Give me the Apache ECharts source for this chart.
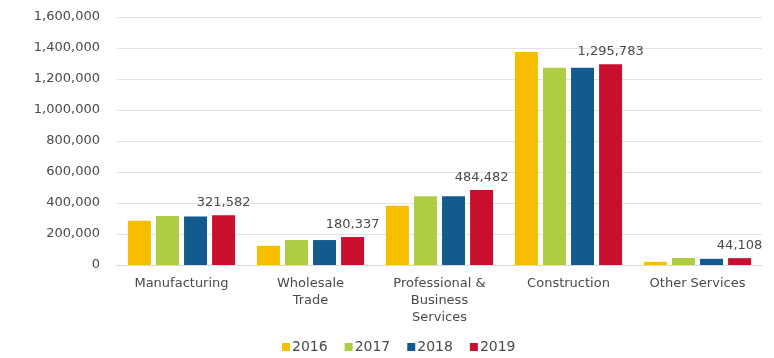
<!DOCTYPE html>
<html><head><meta charset="utf-8">
<script src="https://cdn.jsdelivr.net/npm/echarts@6/dist/echarts.min.js"></script>
<style>html,body{margin:0;padding:0;background:#fff}#c{width:774px;height:358px}</style>
</head><body><div id="c"></div>
<script>
const categories = ["Manufacturing", "Wholesale\nTrade", "Professional &\nBusiness\nServices", "Construction", "Other Services"];
const years = ["2016", "2017", "2018", "2019"];
const v2016 = [286000, 124000, 383000, 1375000, 20000];
const v2017 = [316000, 161000, 444000, 1273000, 45000];
const v2018 = [313000, 161000, 444000, 1273000, 40000];
const v2019 = [321582, 180337, 484482, 1295783, 44108];
const yTicks = [0, 200000, 400000, 600000, 800000, 1000000, 1200000, 1400000, 1600000];
const colors = ["#F7BE00", "#AECD44", "#135B8F", "#C8102E"];

const font = "DejaVu Sans";
const txt = "#4a4a4a";
const seriesVals = [v2016, v2017, v2018, v2019];
const fmt = v => v.toLocaleString("en-US");

const chart = echarts.init(document.getElementById("c"));
chart.setOption({
  animation: false,
  textStyle: { fontFamily: font },
  grid: { left: 117, right: 12, top: 17, bottom: 93 },
  legend: {
    bottom: -1, left: 277,
    itemWidth: 8, itemHeight: 8, itemGap: 17,
    icon: "rect",
    textStyle: { color: txt, fontSize: 14, fontFamily: font, padding: [0, 0, 0, -3] },
    data: years
  },
  xAxis: {
    type: "category", data: categories,
    axisTick: { show: false },
    axisLine: { show: true, lineStyle: { color: "#d9d9d9" } },
    axisLabel: { color: txt, fontSize: 13, fontFamily: font, lineHeight: 17, margin: 10, interval: 0 }
  },
  yAxis: {
    type: "value", min: 0, max: 1600000, interval: 200000,
    axisLine: { show: false }, axisTick: { show: false },
    splitLine: { lineStyle: { color: "#e3e3e3" } },
    axisLabel: { color: txt, fontSize: 13, fontFamily: font, margin: 17, formatter: v => fmt(v) }
  },
  series: years.map((y, i) => ({
    name: y, type: "bar", data: seriesVals[i],
    itemStyle: { color: colors[i] },
    barWidth: 23, barGap: "22%",
    label: i === 3 ? { show: true, position: "top", distance: 6, color: txt, fontSize: 13, fontFamily: font, formatter: p => fmt(p.value) } : { show: false }
  }))
});
</script></body></html>
